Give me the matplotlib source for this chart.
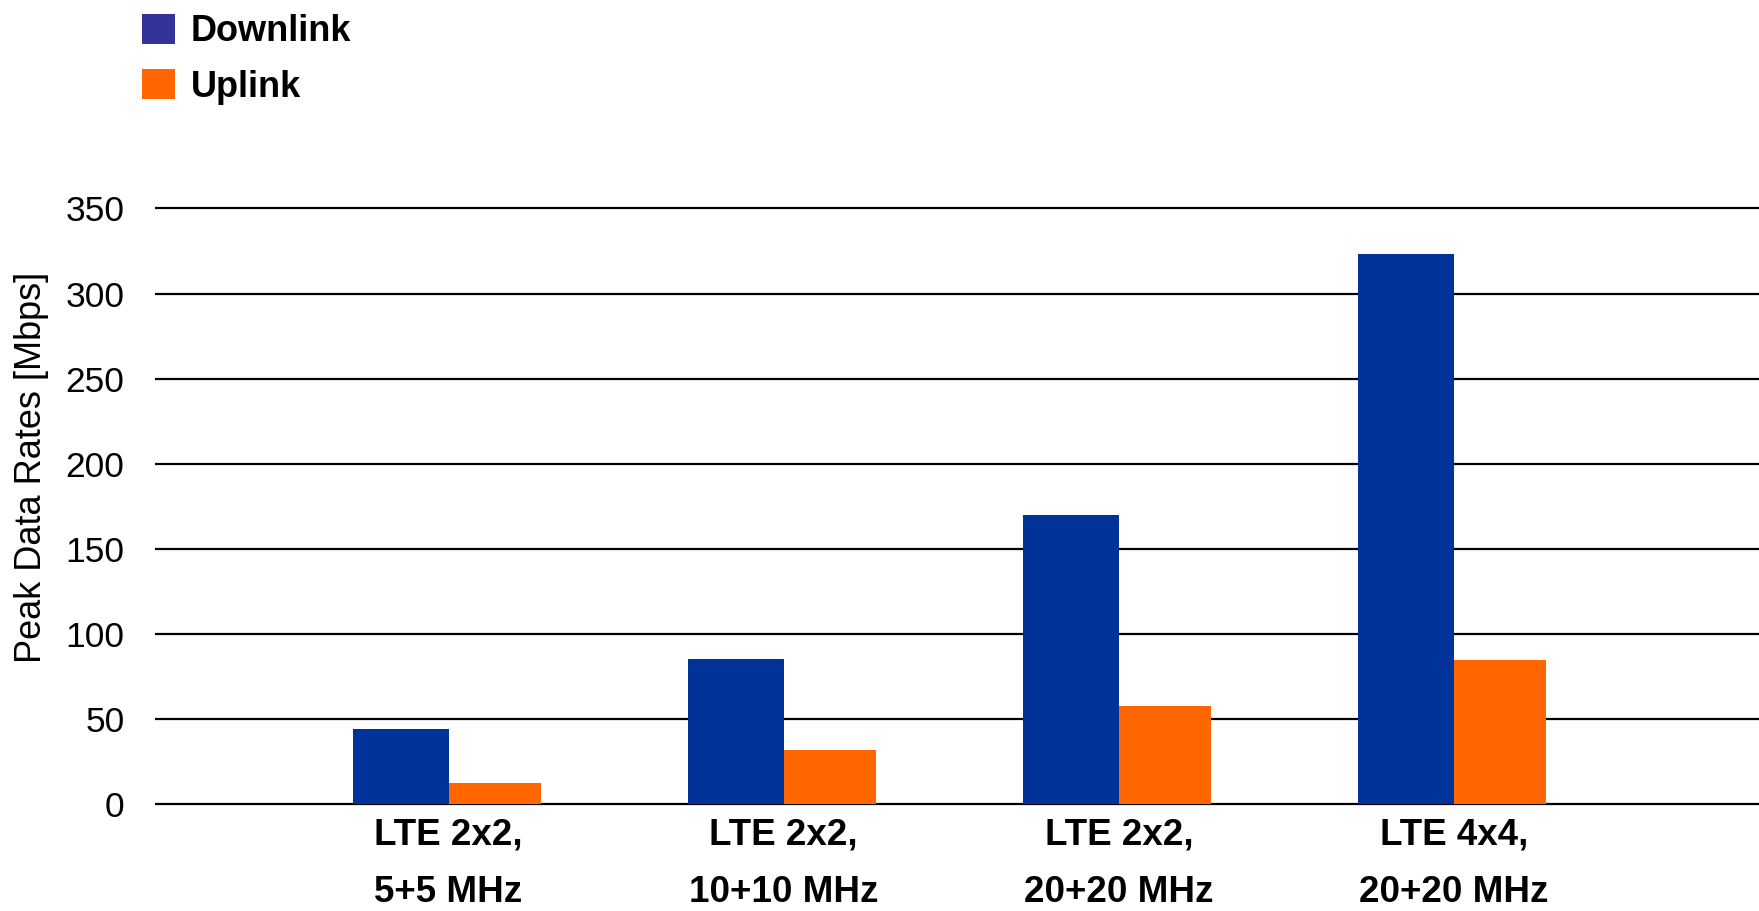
import matplotlib
matplotlib.use("Agg")
import matplotlib.pyplot as plt
from matplotlib.patches import Patch
import numpy as np

plt.rcParams['font.family'] = ['Liberation Sans', 'DejaVu Sans']

# Peak LTE data rates per antenna / bandwidth configuration
categories = ["LTE 2x2,\n5+5 MHz", "LTE 2x2,\n10+10 MHz",
              "LTE 2x2,\n20+20 MHz", "LTE 4x4,\n20+20 MHz"]
downlink = [44, 85.5, 170, 323]
uplink = [12.4, 32, 57.5, 84.5]
y_ticks = [0, 50, 100, 150, 200, 250, 300, 350]

dl_bar_color = '#003399'
dl_key_color = '#333399'
ul_color = '#FF6600'

fig = plt.figure(figsize=(17.59, 9.11), dpi=100)
ax = fig.add_axes([0.0881, 0.1118, 0.9119, 0.665])

x = np.arange(len(categories))
ax.bar(x, downlink, width=-0.286, align='edge', color=dl_bar_color, zorder=3)
ax.bar(x, uplink, width=0.275, align='edge', color=ul_color, zorder=3)

ax.set_xlim(-0.876, 3.91)
ax.set_ylim(-3, 353)
ax.set_yticks(y_ticks)
ax.set_xticks(x)
ax.set_xticklabels(categories, fontsize=26.5, fontweight='bold', linespacing=1.85)
ax.tick_params(axis='y', length=0, pad=22, labelsize=25.5)
ax.tick_params(axis='x', length=0, pad=6)

ax.yaxis.grid(True, color='black', linewidth=1.6)
ax.set_axisbelow(True)
for spine in ax.spines.values():
    spine.set_visible(False)

ax.set_ylabel('Peak Data Rates [Mbps]', fontsize=26)
ax.yaxis.set_label_coords(-0.066, 0.564)

handles = [Patch(facecolor=dl_key_color, edgecolor='none', label='Downlink'),
           Patch(facecolor=ul_color, edgecolor='none', label='Uplink')]
fig.legend(handles=handles, loc='upper left', bbox_to_anchor=(142 / 1759, 1 - 14 / 911),
           frameon=False, borderpad=0, borderaxespad=0, handlelength=0.9,
           handleheight=0.9, handletextpad=0.45, labelspacing=0.55,
           prop={'size': 26, 'weight': 'bold'})

fig.savefig('out.png', dpi=100)
